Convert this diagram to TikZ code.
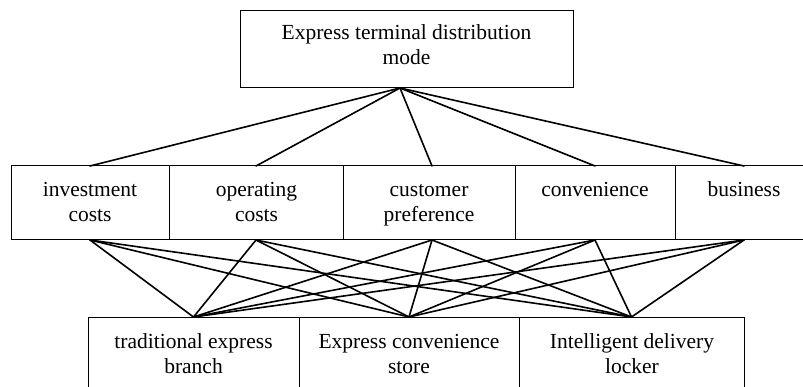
\documentclass[tikz,border=0pt]{standalone}
\usepackage{fontspec}
\setmainfont{Liberation Serif}
\begin{document}
\begin{tikzpicture}[x=1pt,y=-1pt,
  box/.style={draw, line width=1pt, inner sep=0pt, outer sep=0pt, anchor=north west},
  txt/.style={inner sep=0pt, outer sep=0pt, anchor=north, align=center,
    font=\fontsize{21.5}{25}\selectfont},
  link/.style={line width=1.6pt, line cap=round}]
\useasboundingbox (0,0) rectangle (803,387);
\begin{scope}
\clip (0,0) rectangle (803,387);
% top box
\node[box, minimum width=333pt, minimum height=77pt] (top) at (240,11) {};
\node[txt] (ttop) at (406.5,22.5) {\strut Express terminal distribution\\\strut mode};
% middle row
\node[box, minimum width=158pt, minimum height=74pt] (m1) at (11,166) {};
\node[box, minimum width=174pt, minimum height=74pt] (m2) at (169,166) {};
\node[box, minimum width=172pt, minimum height=74pt] (m3) at (343,166) {};
\node[box, minimum width=160pt, minimum height=74pt] (m4) at (515,166) {};
\node[box, minimum width=138pt, minimum height=74pt] (m5) at (675,166) {};
\node[txt] (t1) at (90,179.5) {\strut investment\\\strut costs};
\node[txt] (t2) at (256.5,179.5) {\strut operating\\\strut costs};
\node[txt] (t3) at (429,179.5) {\strut customer\\\strut preference};
\node[txt] (t4) at (595,179.5) {\strut convenience};
\node[txt] (t5) at (744,179.5) {\strut business};
% bottom row
\node[box, minimum width=211pt, minimum height=75pt] (b1) at (88,317) {};
\node[box, minimum width=220pt, minimum height=75pt] (b2) at (299,317) {};
\node[box, minimum width=225pt, minimum height=75pt] (b3) at (519,317) {};
\node[txt] (u1) at (193.5,330.8) {\strut traditional express\\\strut branch};
\node[txt] (u2) at (409,330.8) {\strut Express convenience\\\strut store};
\node[txt] (u3) at (632,330.8) {\strut Intelligent delivery\\\strut locker};
% connectors top -> middle
\coordinate (apex) at ([xshift=-6.5pt]top.south);
\coordinate (m3n) at ([xshift=3pt]m3.north);
\coordinate (m3s) at ([xshift=3pt]m3.south);
\foreach \m in {m1.north, m2.north, m3n, m4.north, m5.north}
  \draw[link] (apex) -- (\m);
% connectors middle -> bottom
\foreach \m in {m1.south, m2.south, m3s, m4.south, m5.south}
  \foreach \b in {b1, b2, b3}
    \draw[link] (\m) -- (\b.north);
\end{scope}
\end{tikzpicture}
\end{document}
